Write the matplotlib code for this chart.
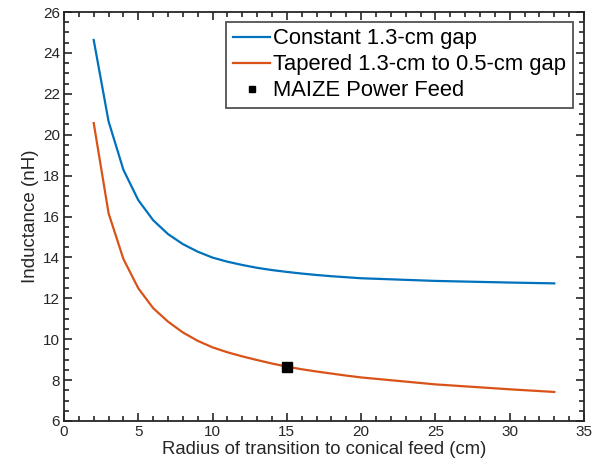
import matplotlib
matplotlib.use("Agg")
import matplotlib.pyplot as plt
from matplotlib.ticker import MultipleLocator

radius = [2, 3, 4, 5, 6, 7, 8, 9, 10, 11, 12, 13, 14, 15, 16, 17, 18, 19, 20, 25, 30, 33]
constant_gap = [24.63, 20.65, 18.28, 16.8, 15.82, 15.14, 14.65, 14.28, 13.99, 13.79, 13.63,
                13.49, 13.38, 13.29, 13.21, 13.14, 13.08, 13.03, 12.98, 12.85, 12.77, 12.73]
tapered_gap = [20.57, 16.16, 13.92, 12.49, 11.52, 10.86, 10.33, 9.92, 9.6, 9.36, 9.16,
               8.98, 8.81, 8.66, 8.53, 8.42, 8.32, 8.22, 8.13, 7.79, 7.55, 7.42]
maize_x = [15]
maize_y = [8.66]

plt.rcParams['font.family'] = ['Liberation Sans', 'DejaVu Sans']
dark = '#262626'

fig = plt.figure(figsize=(6.02, 4.74), dpi=100)
ax = fig.add_axes([64/602, 1-421/474, (584-64)/602, (421-12)/474])

ax.plot(radius, constant_gap, color='#0072BD', lw=1.6, label='Constant 1.3-cm gap')
ax.plot(radius, tapered_gap, color='#D95319', lw=1.6, label='Tapered 1.3-cm to 0.5-cm gap')
ax.plot(maize_x, maize_y, 's', color='black', ms=6.5, label='MAIZE Power Feed')

ax.set_xlim(0, 35)
ax.set_ylim(6, 26)
ax.xaxis.set_major_locator(MultipleLocator(5))
ax.xaxis.set_minor_locator(MultipleLocator(1))
ax.yaxis.set_major_locator(MultipleLocator(2))
ax.yaxis.set_minor_locator(MultipleLocator(0.5))
ax.tick_params(which='both', direction='in', top=True, right=True, colors=dark,
               labelsize=11, width=1.2)
ax.tick_params(which='major', length=6, pad=3)
ax.tick_params(which='minor', length=3.5)
for s in ax.spines.values():
    s.set_color(dark)
    s.set_linewidth(1.3)

ax.set_xlabel('Radius of transition to conical feed (cm)', fontsize=13.3, color=dark, labelpad=1)
ax.set_ylabel('Inductance (nH)', fontsize=13.5, color=dark, labelpad=3)

leg = ax.legend(loc='upper right', fontsize=15.8, frameon=True, fancybox=False,
                edgecolor=dark, handlelength=1.7, handletextpad=0.15, borderpad=0.3,
                borderaxespad=0, labelspacing=0.23, bbox_to_anchor=(0.979, 0.976),
                markerscale=0.6)
leg.get_frame().set_linewidth(1.3)

fig.savefig('out.png', dpi=100)
